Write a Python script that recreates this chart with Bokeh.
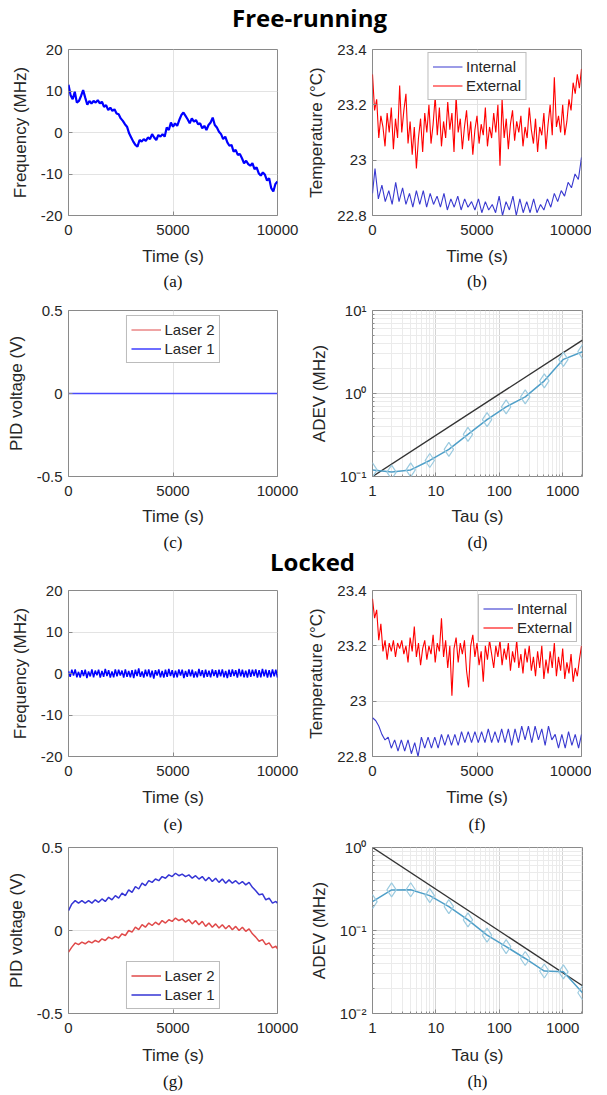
from bokeh.plotting import figure
from bokeh.layouts import column, row
from bokeh.models import Div, Title, FixedTicker, CustomJSTickFormatter, Range1d
from bokeh.embed import file_html
from bokeh.resources import INLINE

# ---------------- data ----------------
t100 = list(range(0, 10001, 100))
t80 = list(range(0, 10001, 80))

# (a) free-running beat frequency (MHz), every 100 s
freq_free = [11.5, 9.0, 8.0, 9.8, 7.2, 7.6, 8.8, 10.2, 8.4, 6.7,
             7.6, 7.0, 7.6, 7.2, 7.8, 7.0, 7.4, 6.2, 6.6, 5.4,
             6.0, 5.2, 5.6, 4.6, 4.4, 3.4, 2.8, 2.0, 1.4, -0.2,
             -1.2, -2.2, -3.0, -3.4, -1.8, -2.2, -1.6, -2.0, -1.2, -1.6,
             -0.4, -1.2, -1.8, -0.6, -1.0, -0.4, -1.0, 1.2, 0.6, 2.4,
             1.4, 2.2, 1.6, 3.0, 4.2, 4.8, 4.0, 3.2, 2.2, 3.4,
             2.6, 3.0, 2.0, 2.2, 1.0, 1.6, 0.6, 1.8, 2.4, 3.6,
             1.8, 1.2, 0.2, -0.4, -1.6, -1.0, -2.4, -3.2, -3.0, -4.6,
             -4.2, -5.4, -5.2, -6.2, -7.4, -6.8, -7.6, -8.0, -7.4, -8.8,
             -8.4, -9.8, -10.4, -9.6, -10.2, -11.6, -11.0, -13.4, -14.2, -12.4,
             -11.8]

# (b) free-running temperatures (deg C)
ext_free = [23.31, 23.18, 23.22, 23.08, 23.16, 23.12, 23.05, 23.17, 23.10, 23.19,
            23.04, 23.15, 23.08, 23.27, 23.10, 23.18, 23.24, 23.06, 23.14, 23.02,
            23.12, 22.97, 23.08, 23.15, 23.03, 23.17, 23.10, 23.20, 23.06, 23.13,
            23.23, 23.09, 23.19, 23.05, 23.14, 23.08, 23.21, 23.11, 23.17, 23.03,
            23.23, 23.10, 23.15, 23.04, 23.12, 23.18, 23.07, 23.14, 23.02, 23.11,
            23.16, 23.06, 23.13, 23.09, 23.19, 23.05, 23.12, 23.08, 23.17, 23.10,
            23.20, 22.98, 23.22, 23.08, 23.15, 23.04, 23.13, 23.18, 23.07, 23.14,
            23.10, 23.16, 23.05, 23.12, 23.08, 23.19, 23.11, 23.06, 23.15, 23.03,
            23.12, 23.09, 23.17, 23.04, 23.13, 23.20, 23.09, 23.30, 23.12, 23.16,
            23.10, 23.20, 23.09, 23.14, 23.22, 23.18, 23.28, 23.24, 23.31, 23.26,
            23.33]
t_int_free = [0, 120, 280, 450, 610, 780, 940, 1110, 1270, 1440, 1600, 1770, 1930, 2100,
              2260, 2430, 2590, 2760, 2920, 3090, 3250, 3420, 3580, 3750, 3910, 4080,
              4240, 4410, 4570, 4740, 4900, 5070, 5230, 5400, 5560, 5730, 5890, 6060,
              6220, 6390, 6550, 6720, 6880, 7050, 7210, 7380, 7540, 7710, 7870, 8040,
              8200, 8370, 8530, 8700, 8860, 9030, 9190, 9360, 9520, 9690, 9850, 10000]
int_free = [22.88, 22.97, 22.86, 22.91, 22.85, 22.89, 22.84, 22.92, 22.85, 22.90,
            22.84, 22.88, 22.83, 22.89, 22.84, 22.89, 22.83, 22.88, 22.84, 22.87,
            22.83, 22.88, 22.82, 22.86, 22.83, 22.87, 22.82, 22.86, 22.83, 22.85,
            22.82, 22.86, 22.81, 22.85, 22.82, 22.84, 22.81, 22.87, 22.80, 22.85,
            22.82, 22.87, 22.80, 22.86, 22.81, 22.85, 22.81, 22.86, 22.81, 22.84,
            22.82, 22.86, 22.83, 22.88, 22.85, 22.89, 22.87, 22.92, 22.90, 22.95,
            22.93, 23.01]

# (c) free-running PID voltages (V)
t_pid_free = [0, 10000]
pid2_free = [0.0, 0.0]
pid1_free = [0.0, 0.0]

# (d) free-running Allan deviation
tau = [1, 2, 4, 8, 16, 32, 64, 128, 256, 512, 1024, 2048]
adev_free = [0.12, 0.113, 0.12, 0.156, 0.212, 0.322, 0.485, 0.69, 0.91, 1.42, 2.58, 3.19]
ref_tau = [1, 2048]
ref_free = [0.1, 4.4]

# (e) locked beat frequency (MHz), every 80 s
freq_lock = [0.6, -0.8, 0.9, -0.5, 1.0, -0.9, 0.4, -1.0, 0.8, -0.6,
             0.9, -1.1, 0.5, -0.7, 1.0, -0.9, 0.7, -0.4, 0.9, -1.0,
             0.6, -0.8, 1.1, -0.6, 0.8, -1.0, 0.5, -0.9, 1.0, -0.7,
             0.9, -0.5, 0.7, -1.0, 1.0, -0.8, 0.6, -0.9, 0.8, -1.1,
             0.9, -0.6, 1.2, -0.8, 0.5, -1.0, 0.9, -0.7, 1.0, -0.9,
             0.7, -1.2, 0.8, -0.5, 1.0, -0.9, 0.6, -1.0, 0.9, -0.8,
             1.1, -0.6, 0.8, -1.0, 0.7, -0.9, 1.0, -0.5, 0.9, -1.1,
             0.6, -0.8, 1.0, -0.7, 0.9, -1.0, 0.5, -0.9, 1.1, -0.6,
             0.8, -1.0, 0.9, -0.8, 0.7, -0.9, 1.0, -0.6, 0.8, -1.0,
             0.9, -0.7, 1.0, -0.9, 0.6, -1.1, 0.9, -0.8, 1.0, -0.6,
             0.8, -1.0, 1.1, -0.7, 0.9, -0.9, 0.7, -1.0, 1.0, -0.8,
             0.9, -0.6, 1.0, -1.0, 0.8, -0.9, 1.1, -0.7, 0.9, -1.0,
             0.8, -0.9, 1.0, -0.7, 0.9, -1.0]

# (f) locked temperatures (deg C)
ext_lock = [23.37, 23.30, 23.33, 23.22, 23.28, 23.18, 23.22, 23.15, 23.21, 23.18,
            23.22, 23.16, 23.21, 23.19, 23.22, 23.17, 23.20, 23.14, 23.23, 23.18,
            23.27, 23.16, 23.21, 23.13, 23.19, 23.22, 23.15, 23.20, 23.17, 23.24,
            23.14, 23.21, 23.18, 23.30, 23.16, 23.22, 23.12, 23.20, 23.02, 23.19,
            23.23, 23.14, 23.21, 23.17, 23.22, 23.11, 23.05, 23.20, 23.24, 23.16,
            23.21, 23.13, 23.18, 23.07, 23.20, 23.15, 23.22, 23.17, 23.12, 23.20,
            23.16, 23.22, 23.13, 23.19, 23.15, 23.21, 23.11, 23.18, 23.14, 23.22,
            23.12, 23.17, 23.10, 23.19, 23.14, 23.20, 23.11, 23.16, 23.09, 23.18,
            23.12, 23.20, 23.08, 23.15, 23.10, 23.18, 23.12, 23.21, 23.09, 23.16,
            23.11, 23.19, 23.08, 23.14, 23.10, 23.17, 23.07, 23.12, 23.09, 23.15,
            23.20]
t_int_lock = [0, 150, 300, 450, 600, 750, 900, 1060, 1220, 1380, 1540, 1700, 1860, 2020,
              2180, 2340, 2500, 2660, 2820, 2980, 3140, 3300, 3460, 3620, 3780, 3940,
              4100, 4260, 4420, 4580, 4740, 4900, 5060, 5220, 5380, 5540, 5700, 5860,
              6020, 6180, 6340, 6500, 6660, 6820, 6980, 7140, 7300, 7460, 7620, 7780,
              7940, 8100, 8260, 8420, 8580, 8740, 8900, 9060, 9220, 9380, 9540, 9700,
              9860, 10000]
int_lock = [22.94, 22.93, 22.91, 22.88, 22.86, 22.87, 22.83, 22.86, 22.82, 22.86,
            22.82, 22.86, 22.81, 22.85, 22.80, 22.87, 22.83, 22.87, 22.83, 22.87,
            22.83, 22.88, 22.84, 22.88, 22.84, 22.88, 22.84, 22.89, 22.85, 22.89,
            22.85, 22.89, 22.85, 22.89, 22.85, 22.90, 22.85, 22.89, 22.85, 22.90,
            22.85, 22.90, 22.84, 22.90, 22.85, 22.91, 22.86, 22.91, 22.85, 22.91,
            22.86, 22.90, 22.84, 22.91, 22.86, 22.88, 22.83, 22.88, 22.83, 22.89,
            22.84, 22.88, 22.83, 22.88]

# (g) locked PID voltages (V)
t_pid = [0, 160, 320, 480, 640, 800, 960, 1120, 1280, 1440, 1600, 1760, 1920, 2080,
         2240, 2400, 2560, 2720, 2880, 3040, 3200, 3360, 3520, 3680, 3840, 4000,
         4160, 4320, 4480, 4640, 4800, 4960, 5120, 5280, 5440, 5600, 5760, 5920,
         6080, 6240, 6400, 6560, 6720, 6880, 7040, 7200, 7360, 7520, 7680, 7840,
         8000, 8160, 8320, 8480, 8640, 8800, 8960, 9120, 9280, 9440, 9600, 9760,
         9920, 10000]
pid1_lock = [0.12, 0.16, 0.18, 0.165, 0.18, 0.165, 0.18, 0.165, 0.185, 0.17,
             0.19, 0.175, 0.20, 0.185, 0.21, 0.195, 0.225, 0.21, 0.245, 0.23,
             0.265, 0.25, 0.285, 0.27, 0.30, 0.29, 0.31, 0.30, 0.325, 0.315,
             0.335, 0.325, 0.345, 0.33, 0.34, 0.325, 0.335, 0.315, 0.33, 0.31,
             0.325, 0.30, 0.32, 0.295, 0.315, 0.29, 0.31, 0.285, 0.305, 0.285,
             0.30, 0.28, 0.295, 0.275, 0.29, 0.26, 0.24, 0.215, 0.22, 0.185,
             0.195, 0.165, 0.175, 0.165]
pid2_lock = [-0.13, -0.10, -0.075, -0.085, -0.07, -0.08, -0.065, -0.075, -0.06, -0.07,
             -0.05, -0.06, -0.04, -0.05, -0.035, -0.045, -0.02, -0.03, 0.0, -0.01,
             0.02, 0.005, 0.035, 0.02, 0.045, 0.03, 0.05, 0.035, 0.06, 0.045,
             0.065, 0.055, 0.075, 0.06, 0.07, 0.05, 0.065, 0.04, 0.06, 0.035,
             0.055, 0.025, 0.045, 0.02, 0.04, 0.015, 0.035, 0.01, 0.03, 0.005,
             0.025, 0.0, 0.02, -0.005, 0.01, -0.02, -0.04, -0.065, -0.055, -0.085,
             -0.075, -0.105, -0.095, -0.11]

# (h) locked Allan deviation
adev_lock = [0.223, 0.308, 0.31, 0.263, 0.194, 0.134, 0.088, 0.064, 0.046, 0.0325, 0.0318, 0.0178]
ref_lock = [1.0, 0.0216]

time_ticks = [0, 5000, 10000]
freq_ticks = [-20, -10, 0, 10, 20]
temp_ticks = [22.8, 23.0, 23.2, 23.4]
pid_ticks = [-0.5, 0, 0.5]
tau_ticks = [1, 10, 100, 1000]
tau_minor = [2, 3, 4, 5, 6, 7, 8, 9, 20, 30, 40, 50, 60, 70, 80, 90,
             200, 300, 400, 500, 600, 700, 800, 900, 2000]
adev_ticks_free = [0.1, 1, 10]
adev_minor_free = [0.2, 0.3, 0.4, 0.5, 0.6, 0.7, 0.8, 0.9, 2, 3, 4, 5, 6, 7, 8, 9]
adev_ticks_lock = [0.01, 0.1, 1]
adev_minor_lock = [0.02, 0.03, 0.04, 0.05, 0.06, 0.07, 0.08, 0.09,
                   0.2, 0.3, 0.4, 0.5, 0.6, 0.7, 0.8, 0.9]

# ---------------- styling ----------------
FONT = "Liberation Sans"
SERIF = "Liberation Serif"
TXT = "#262626"
BOX = "#8a8a8a"
GRID = "#e3e3e3"
BLUE = "#0000ff"
RED = "#ff0000"
FW, FH = 209, 166

fmt = CustomJSTickFormatter(code="return String(tick);")
logfmt = CustomJSTickFormatter(code=(
    "const e = Math.round(Math.log10(tick));"
    "const s = {'-2': '\u207b\u00b2', '-1': '\u207b\u00b9', '0': '\u2070', '1': '\u00b9'};"
    "return '10' + s[String(e)];"))
taufmt = CustomJSTickFormatter(code="return String(Math.round(tick));")


def style_axes(p, xlabel, ylabel, xl_std):
    for ax in p.axis:
        ax.axis_line_color = None
        ax.major_tick_in = 4
        ax.major_tick_out = 0
        ax.minor_tick_in = 0
        ax.minor_tick_out = 0
        ax.major_tick_line_color = BOX
        ax.major_label_text_font = FONT
        ax.major_label_text_font_size = "15px"
        ax.major_label_text_color = TXT
        ax.axis_label_text_font = FONT
        ax.axis_label_text_font_size = "17px"
        ax.axis_label_text_font_style = "normal"
        ax.axis_label_text_color = TXT
    p.xaxis.axis_label = xlabel
    p.yaxis.axis_label = ylabel
    p.xaxis.major_label_standoff = 9
    p.xaxis.axis_label_standoff = xl_std
    p.yaxis.major_label_standoff = 6
    p.yaxis.axis_label_standoff = 8


def add_caption(p, caption, std):
    p.add_layout(Title(text=caption, align="center", text_font=SERIF, text_font_size="17px",
                       text_font_style="normal", text_color="#111111", standoff=std), "below")


def make_lin(y_range, yticks, ylabel, caption, borders, stds):
    top, bottom, left, right = borders
    p = figure(frame_width=FW, frame_height=FH, x_range=Range1d(0, 10000), y_range=Range1d(*y_range),
               output_backend="svg", toolbar_location=None,
               min_border_top=top, min_border_bottom=bottom, min_border_left=left, min_border_right=right)
    p.outline_line_color = BOX
    p.background_fill_color = "white"
    p.border_fill_color = "white"
    p.xaxis.ticker = FixedTicker(ticks=time_ticks)
    p.yaxis.ticker = FixedTicker(ticks=yticks)
    p.xaxis.formatter = fmt
    p.yaxis.formatter = fmt
    p.grid.grid_line_color = GRID
    style_axes(p, "Time (s)", ylabel, stds[0])
    add_caption(p, caption, stds[1])
    return p


def make_log(y_range, yticks, yminor, caption, borders, stds):
    top, bottom, left, right = borders
    p = figure(frame_width=FW + 1, frame_height=FH, x_axis_type="log", y_axis_type="log",
               x_range=Range1d(1, 2048), y_range=Range1d(*y_range),
               output_backend="svg", toolbar_location=None,
               min_border_top=top, min_border_bottom=bottom, min_border_left=left, min_border_right=right)
    p.outline_line_color = BOX
    p.background_fill_color = "white"
    p.border_fill_color = "white"
    p.xaxis.ticker = FixedTicker(ticks=tau_ticks, minor_ticks=tau_minor)
    p.yaxis.ticker = FixedTicker(ticks=yticks, minor_ticks=yminor)
    p.xaxis.formatter = taufmt
    p.yaxis.formatter = logfmt
    p.grid.grid_line_color = "#d4d4d4"
    p.grid.minor_grid_line_color = "#ebebeb"
    style_axes(p, "Tau (s)", "ADEV (MHz)", stds[0])
    for ax in p.axis:
        ax.minor_tick_in = 2
        ax.minor_tick_line_color = BOX
    add_caption(p, caption, stds[1])
    return p


def style_legend(p, loc, margin):
    lg = p.legend[0]
    lg.location = loc
    lg.label_text_font = FONT
    lg.label_text_font_size = "15px"
    lg.label_text_color = TXT
    lg.glyph_width = 30
    lg.glyph_height = 19
    lg.label_height = 19
    lg.label_standoff = 4
    lg.spacing = 0
    lg.padding = 4
    lg.margin = margin
    lg.border_line_color = "#7a7a7a"
    lg.border_line_width = 1
    lg.background_fill_alpha = 1.0


def title_div(text, height, line_height, pad_left):
    html = ('<div style="padding-left:%dpx;font-family:\'Open Sans\';font-weight:bold;'
            'font-size:24px;line-height:%dpx;color:#000000;white-space:nowrap;">%s</div>'
            % (pad_left, line_height, text))
    return Div(text=html, width=593, height=height, margin=0)


# borders: (top, bottom, left, right); stds: (axis label standoff, caption standoff)
L1 = (68, 24)
L2 = (71, 10)

# ---------------- Free-running ----------------
pa = make_lin((-20, 20), freq_ticks, "Frequency (MHz)", "(a)", (12, 83) + L1, (9, 2))
pa.line(t100, freq_free, color=BLUE, line_width=2.2)

pb = make_lin((22.8, 23.4), temp_ticks, "Temperature (°C)", "(b)", (12, 83) + L2, (9, 2))
pb.line(t_int_free, int_free, color="#3a3ad0", line_width=1.1, legend_label="Internal")
pb.line(t100, ext_free, color=RED, line_width=1.1, legend_label="External")
style_legend(pb, "top_center", 3)

pc = make_lin((-0.5, 0.5), pid_ticks, "PID voltage (V)", "(c)", (12, 78) + L1, (8, 4))
pc.line(t_pid_free, pid2_free, color="#e04a4a", line_width=1.0, legend_label="Laser 2")
pc.line(t_pid_free, pid1_free, color="#4a4aff", line_width=1.6, legend_label="Laser 1")
style_legend(pc, "top_center", 5)

pd = make_log((0.1, 10), adev_ticks_free, adev_minor_free, "(d)", (12, 78) + L2, (8, 4))
pd.line(ref_tau, ref_free, color="#333333", line_width=1.4)
pd.line(tau, adev_free, color="#4f9fc8", line_width=1.5)
pd.scatter(tau, adev_free, marker="diamond", size=14, fill_color=None, line_color="#9ccbe0", line_width=1.2)

# ---------------- Locked ----------------
pe = make_lin((-20, 20), freq_ticks, "Frequency (MHz)", "(e)", (12, 82) + L1, (9, 6))
pe.line(t80, freq_lock, color=BLUE, line_width=1.5)

pf = make_lin((22.8, 23.4), temp_ticks, "Temperature (°C)", "(f)", (12, 82) + L2, (9, 6))
pf.line(t_int_lock, int_lock, color="#3a3ad0", line_width=1.1, legend_label="Internal")
pf.line(t100, ext_lock, color=RED, line_width=1.1, legend_label="External")
style_legend(pf, "top_right", 4)

pg = make_lin((-0.5, 0.5), pid_ticks, "PID voltage (V)", "(g)", (9, 81) + L1, (10, 5))
pg.line(t_pid, pid2_lock, color="#e04a4a", line_width=1.5, legend_label="Laser 2")
pg.line(t_pid, pid1_lock, color="#3535d5", line_width=1.5, legend_label="Laser 1")
style_legend(pg, "bottom_center", 4)

ph = make_log((0.01, 1), adev_ticks_lock, adev_minor_lock, "(h)", (9, 81) + L2, (10, 5))
ph.line(ref_tau, ref_lock, color="#333333", line_width=1.4)
ph.line(tau, adev_lock, color="#4f9fc8", line_width=1.5)
ph.scatter(tau, adev_lock, marker="diamond", size=14, fill_color=None, line_color="#9ccbe0", line_width=1.2)

layout = column(
    title_div("Free-running", 37, 35, 232),
    row(pa, pb, spacing=0),
    row(pc, pd, spacing=0),
    title_div("Locked", 24, 16, 270),
    row(pe, pf, spacing=0),
    row(pg, ph, spacing=0),
    spacing=0,
)

open("out.html", "w").write(file_html(layout, INLINE))
